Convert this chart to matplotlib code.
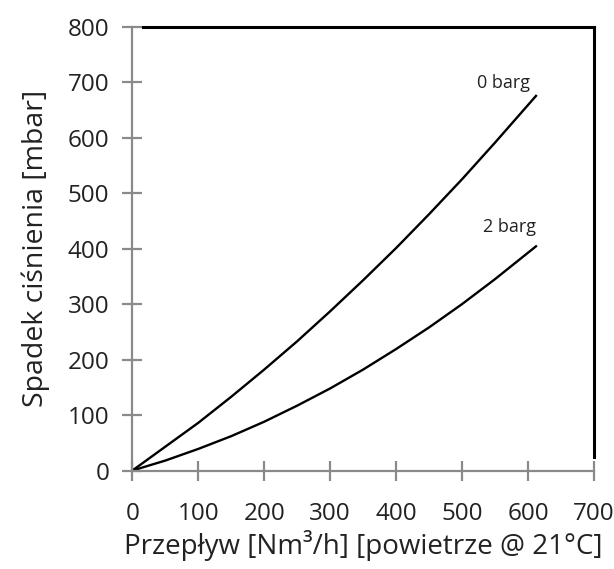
"""Pressure drop vs flow curve (spadek ciśnienia) -> out.png"""
import matplotlib

matplotlib.use("Agg")
import matplotlib.pyplot as plt

# flow [Nm3/h]
flow = [0, 50, 100, 150, 200, 250, 300, 350, 400, 450, 500, 550, 612]
# pressure drop [mbar] per inlet pressure
drop_0barg = [0, 43, 86, 133, 182, 233, 287, 343, 401, 462, 525, 591, 675]
drop_2barg = [0, 18, 39, 62, 88, 117, 148, 182, 219, 258, 300, 345, 404]

x_ticks = [0, 100, 200, 300, 400, 500, 600, 700]
y_ticks = [0, 100, 200, 300, 400, 500, 600, 700, 800]

labels = ["0 barg", "2 barg"]
label_pos = [(562, 698), (572, 439)]

plt.rcParams["font.family"] = ["Open Sans", "DejaVu Sans"]

fig = plt.figure(figsize=(6.14, 5.69), dpi=100)
ax = fig.add_axes([0.2155, 0.173, 0.752, 0.7804])

ax.plot(flow, drop_0barg, color="black", lw=1.7)
ax.plot(flow, drop_2barg, color="black", lw=1.7)
for txt, (lx, ly) in zip(labels, label_pos):
    ax.text(lx, ly, txt, fontsize=13, ha="center", va="center", color="#222222")

ax.set_xlim(0, 700)
ax.set_ylim(0, 800)
ax.set_xticks(x_ticks)
ax.set_yticks(y_ticks)

grey = "#8a8a8a"
for side in ("left", "bottom"):
    ax.spines[side].set_color(grey)
    ax.spines[side].set_linewidth(1.6)
for side in ("top", "right"):
    ax.spines[side].set_color("black")
    ax.spines[side].set_linewidth(2.2)
ax.spines["top"].set_bounds(16, 700)
ax.spines["right"].set_bounds(25, 800)

ax.tick_params(axis="both", direction="inout", length=15, width=1.6,
               color=grey, labelsize=17.5, labelcolor="#222222")
ax.tick_params(axis="x", pad=15)
ax.tick_params(axis="y", pad=9)

ax.set_xlabel("Przepływ [Nm³/h] [powietrze @ 21°C]", fontsize=20,
              color="#222222", labelpad=3)
ax.set_ylabel("Spadek ciśnienia [mbar]", fontsize=20.5, color="#222222",
              labelpad=13)

fig.savefig("out.png", dpi=100)
